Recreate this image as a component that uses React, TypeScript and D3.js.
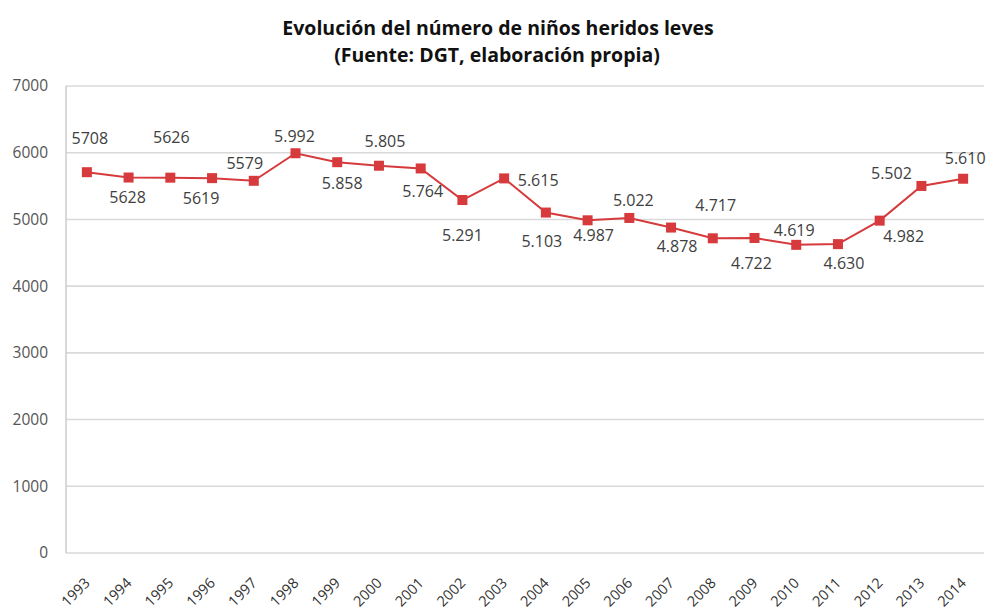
import { useMemo } from "react";
import * as d3 from "d3";

const years = ["1993", "1994", "1995", "1996", "1997", "1998", "1999", "2000", "2001", "2002", "2003", "2004", "2005", "2006", "2007", "2008", "2009", "2010", "2011", "2012", "2013", "2014"];
const injured = [5708, 5628, 5626, 5619, 5579, 5992, 5858, 5805, 5764, 5291, 5615, 5103, 4987, 5022, 4878, 4717, 4722, 4619, 4630, 4982, 5502, 5610];
// labels as printed in the source (mixed formatting)
const valueLabels = ["5708", "5628", "5626", "5619", "5579", "5.992", "5.858", "5.805", "5.764", "5.291", "5.615", "5.103", "4.987", "5.022", "4.878", "4.717", "4.722", "4.619", "4.630", "4.982", "5.502", "5.610"];
const yTicks = [0, 1000, 2000, 3000, 4000, 5000, 6000, 7000];

// manual label placement (dx, dy from the marker), like the hand-moved labels in the original
const labelDx = [3, -1, 1, -11, -9, -1, 5, 6, 2, 0, 34, -4, 6, 4, 6, 3, -3, -2, 6, 24, -30, 2];
const labelDy = [-34, 20, -40, 20, -17, -17, 21, -24, 23, 35, 2, 29, 15, -18, 19, -33, 25, -14, 19, 16, -13, -20];

const W = 990;
const H = 610;
const margin = { top: 86, right: 6, bottom: 57, left: 66 };
const RED = "#d63a3c";

export default function App() {
  const x = useMemo(
    () => d3.scaleBand<string>().domain(years).range([margin.left, W - margin.right]),
    []
  );
  const y = useMemo(
    () => d3.scaleLinear().domain([0, 7000]).range([H - margin.bottom, margin.top]),
    []
  );
  const cx = (i: number) => (x(years[i]) ?? 0) + x.bandwidth() / 2;

  const line = d3
    .line<number>()
    .x((_, i) => cx(i))
    .y((d) => y(d));

  const font = "'Open Sans', 'DejaVu Sans', sans-serif";

  return (
    <svg
      width={W}
      height={H}
      style={{ position: "absolute", left: 0, top: 0, background: "#fff" }}
      fontFamily={font}
    >
      <text x={498} y={35} textAnchor="middle" fontSize={19.5} fontWeight="bold" fill="#111">
        Evolución del número de niños heridos leves
      </text>
      <text x={497} y={62} textAnchor="middle" fontSize={19.5} fontWeight="bold" fill="#111">
        (Fuente: DGT, elaboración propia)
      </text>

      {/* gridlines */}
      {yTicks.map((t) => (
        <g key={t}>
          <line
            x1={margin.left}
            x2={W - margin.right}
            y1={y(t)}
            y2={y(t)}
            stroke="#d9d9d9"
            strokeWidth={1.6}
          />
          <text
            x={48}
            y={y(t)}
            dy="0.35em"
            textAnchor="end"
            fontSize={15.5}
            fill="#555"
          >
            {t}
          </text>
        </g>
      ))}
      <line
        x1={margin.left}
        x2={margin.left}
        y1={y(7000)}
        y2={y(0)}
        stroke="#d0d0d0"
        strokeWidth={1.6}
      />

      {/* x labels */}
      {years.map((yr, i) => (
        <text
          key={yr}
          transform={`translate(${cx(i) + 4},${H - margin.bottom + 31}) rotate(-45)`}
          textAnchor="end"
          fontSize={14.5}
          fill="#333"
        >
          {yr}
        </text>
      ))}

      <path d={line(injured) ?? ""} fill="none" stroke={RED} strokeWidth={2} />
      {injured.map((v, i) => (
        <rect key={i} x={cx(i) - 5} y={y(v) - 5} width={10} height={10} fill={RED} />
      ))}

      {injured.map((v, i) => (
        <text
          key={"l" + i}
          x={cx(i) + labelDx[i]}
          y={y(v) + labelDy[i]}
          dy="0.35em"
          textAnchor="middle"
          fontSize={16}
          fill="#404040"
        >
          {valueLabels[i]}
        </text>
      ))}
    </svg>
  );
}
